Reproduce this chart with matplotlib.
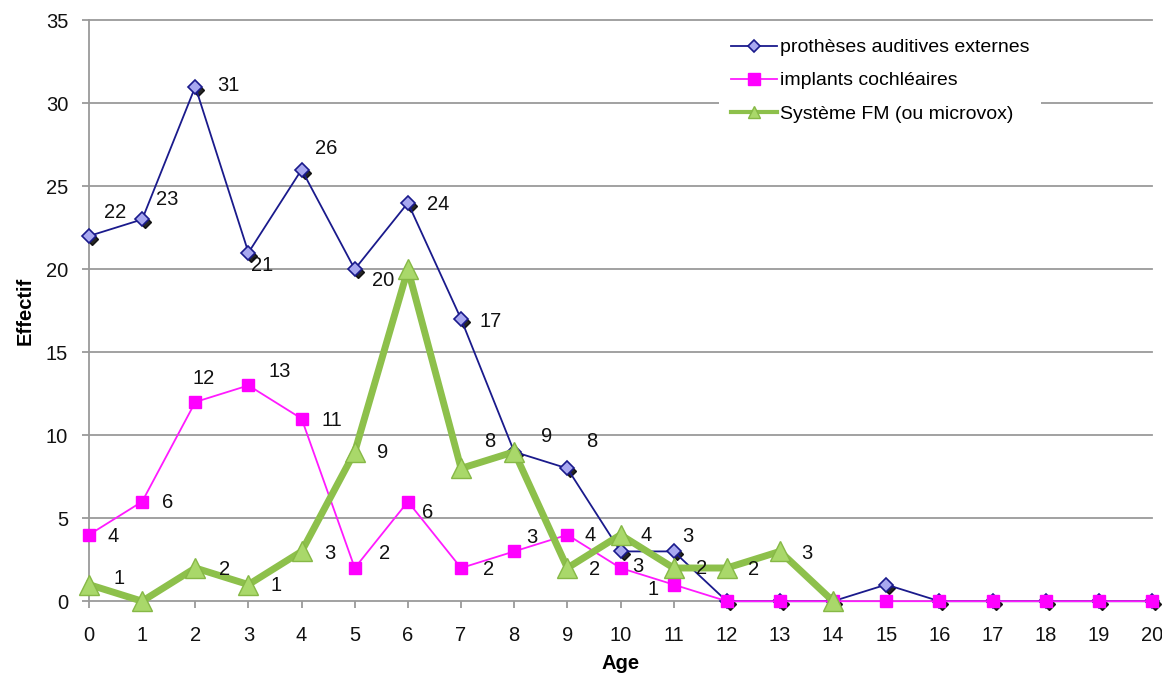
import numpy as np
import matplotlib.pyplot as plt
import matplotlib.transforms as mtransforms

plt.rcParams['font.family'] = ['Liberation Sans', 'DejaVu Sans']

ages = list(range(21))
protheses = [22, 23, 31, 21, 26, 20, 24, 17, 9, 8, 3, 3, 0, 0, 0, 1, 0, 0, 0, 0, 0]
implants = [4, 6, 12, 13, 11, 2, 6, 2, 3, 4, 2, 1, 0, 0, 0, 0, 0, 0, 0, 0, 0]
fm_ages = list(range(15))
fm = [1, 0, 2, 1, 3, 9, 20, 8, 9, 2, 4, 2, 2, 3, 0]

# data labels as drawn: (age, value shown, value of the point it hangs on, dx px, dy px)
lab_prot = [(0, 22, 22, 26, 24), (1, 23, 23, 25, 20), (2, 31, 31, 33, 1), (3, 21, 21, 14, -13),
            (4, 26, 26, 25, 21), (5, 20, 20, 28, -11), (6, 24, 24, 30, -2), (7, 17, 17, 30, -2),
            (8, 9, 9, 32, 15), (9, 8, 8, 24, 27), (10, 3, 3, 17, -15), (11, 3, 3, 14, 15)]
lab_impl = [(0, 4, 4, 24, -2), (1, 6, 6, 25, -1), (2, 12, 12, 8, 24), (3, 13, 13, 31, 14),
            (4, 11, 11, 30, -2), (5, 2, 2, 30, 15), (6, 6, 6, 20, -11), (7, 2, 2, 28, -1),
            (8, 3, 3, 18, 14), (9, 4, 4, 23, -1), (11, 1, 1, -21, -5)]
lab_fm = [(0, 1, 1, 30, 6), (2, 2, 2, 29, -1), (3, 1, 1, 28, -1), (4, 3, 3, 28, -2),
          (5, 9, 9, 28, -1), (7, 8, 8, 29, 27), (9, 2, 2, 27, -1), (10, 4, 4, 26, -1),
          (11, 2, 2, 28, 0), (12, 2, 2, 27, -1), (13, 3, 3, 27, -2)]

fig = plt.figure(figsize=(11.62, 6.74), dpi=100)
ax = fig.add_axes([0.0766, 0.108, 0.9148, 0.862])

grid_c = '#9a9a9a'
for v in range(5, 40, 5):
    ax.axhline(v, color=grid_c, lw=1.3, zorder=0)

navy = '#1a1a8c'
shadow = mtransforms.offset_copy(ax.transData, fig=fig, x=3, y=-3, units='dots')
ax.plot(ages, protheses, ls='none', marker='D', ms=6.5, color='black', alpha=0.85,
        transform=shadow, zorder=2)
ax.plot(ages, protheses, color=navy, lw=1.3, marker='D', ms=7, mfc='#a8a8f0',
        mec=navy, mew=1.2, zorder=3, label='prothèses auditives externes')
ax.plot(ages, implants, color='#ff1aff', lw=1.3, marker='s', ms=8.5, mfc='#ff00ff',
        mec='#ff00ff', zorder=4, label='implants cochléaires')
ax.plot(fm_ages, fm, color='#8dc04b', lw=5, marker='^', ms=14, mfc='#a9d86a',
        mec='#86b846', mew=1, zorder=5, label='Système FM (ou microvox)')

for labs, vals in ((lab_prot, protheses), (lab_impl, implants), (lab_fm, fm)):
    for a, shown, v, dx, dy in labs:
        ax.annotate(str(shown), (a, v), xytext=(dx * 0.72, dy * 0.72), textcoords='offset points',
                    ha='center', va='center', fontsize=14.5, color='#111111', zorder=6)

ax.set_xlim(0, 20)
ax.set_ylim(0, 35)
ax.set_xticks(ages)
ax.set_yticks(range(0, 40, 5))
ax.tick_params(axis='both', colors=grid_c, labelcolor='#111111', labelsize=14.5, width=1.3)
ax.tick_params(axis='x', length=5, pad=13)
ax.tick_params(axis='y', length=5, pad=10)
for s in ('top', 'right'):
    ax.spines[s].set_visible(False)
for s in ('left', 'bottom'):
    ax.spines[s].set_color(grid_c)
    ax.spines[s].set_linewidth(1.3)
ax.spines['bottom'].set_zorder(1)
for ln in ax.lines:
    ln.set_clip_on(False)

ax.set_xlabel('Age', fontsize=14.5, fontweight='bold', labelpad=6)
ax.set_ylabel('Effectif', fontsize=14.5, fontweight='bold', labelpad=8)

leg = ax.legend(loc='upper right', bbox_to_anchor=(0.905, 1.005), frameon=True, fontsize=14,
                handlelength=2.4, handletextpad=0.15, labelspacing=0.8, borderpad=0.6)
leg.get_frame().set_edgecolor('none')
leg.get_frame().set_facecolor('white')
leg.get_frame().set_alpha(1)
leg.set_zorder(7)
for h, ms in zip(leg.legend_handles, (6, 8, 8)):
    h.set_markersize(ms)
leg.legend_handles[2].set_linewidth(3)

fig.savefig('out.png', dpi=100)
